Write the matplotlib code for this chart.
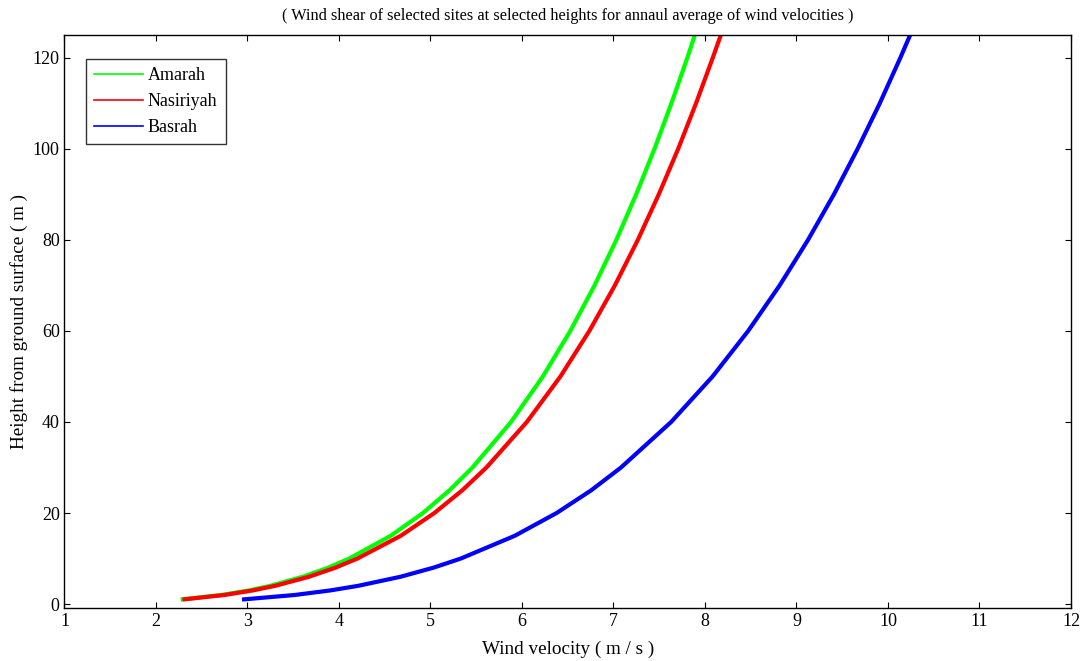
import matplotlib
matplotlib.use("Agg")
import matplotlib.pyplot as plt
from matplotlib.lines import Line2D

# heights (m) and wind velocities (m/s)
heights = [1, 2, 3, 4, 6, 8, 10, 15, 20, 25, 30, 40, 50, 60, 70, 80, 90, 100, 110, 120, 125]
amarah = [2.27, 2.714, 3.014, 3.246, 3.604, 3.882, 4.112, 4.565, 4.917, 5.208, 5.459,
          5.880, 6.228, 6.528, 6.793, 7.031, 7.248, 7.448, 7.633, 7.807, 7.889]
nasiriyah = [2.29, 2.749, 3.059, 3.300, 3.672, 3.961, 4.201, 4.675, 5.042, 5.348, 5.611,
             6.053, 6.420, 6.736, 7.015, 7.266, 7.495, 7.707, 7.902, 8.085, 8.173]
basrah = [2.94, 3.517, 3.905, 4.207, 4.672, 5.033, 5.331, 5.921, 6.378, 6.757, 7.082,
          7.630, 8.083, 8.472, 8.816, 9.126, 9.409, 9.668, 9.910, 10.135, 10.242]

sites = ["Amarah", "Nasiriyah", "Basrah"]
colors = ["#00ff00", "#ff0000", "#0000ff"]

plt.rcParams['font.family'] = ['Liberation Serif', 'DejaVu Serif']

fig = plt.figure(figsize=(10.84, 6.61), dpi=100)
ax = fig.add_axes([0.0595, 0.0806, 0.9285, 0.8664])

for v, c in zip([amarah, nasiriyah, basrah], colors):
    ax.plot(v, heights, color=c, lw=3, solid_capstyle='butt')

ax.set_xlim(1, 12)
ax.set_ylim(-0.8, 125)
ax.set_xticks(range(1, 13))
ax.set_yticks(range(0, 121, 20))
ax.tick_params(direction='in', top=True, right=True, length=4, labelsize=13, width=0.8)
for s in ax.spines.values():
    s.set_linewidth(1.0)

ax.set_title("( Wind shear of selected sites at selected heights for annaul average of wind velocities )",
             fontsize=11.7, pad=11)
ax.set_xlabel("Wind velocity ( m / s )", fontsize=13.8, labelpad=8)
ax.set_ylabel("Height from ground surface ( m )", fontsize=13.8, labelpad=3)

handles = [Line2D([0], [0], color=c, lw=1.2) for c in colors]
leg = ax.legend(handles, sites, loc='upper left', bbox_to_anchor=(0.021, 0.958),
                fontsize=13, frameon=True, fancybox=False, edgecolor='black',
                handlelength=2.7, handletextpad=0.3, borderpad=0.45, labelspacing=0.5,
                borderaxespad=0)
leg.get_frame().set_linewidth(1.0)

fig.savefig("out.png", dpi=100)
